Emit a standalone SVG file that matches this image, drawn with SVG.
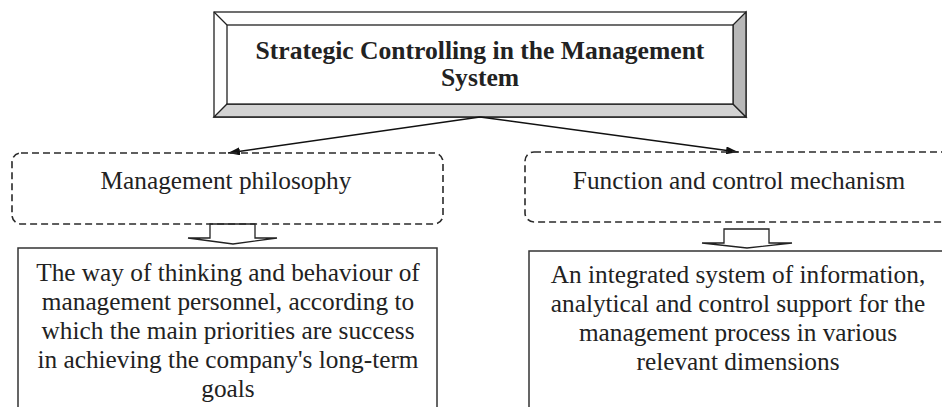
<svg xmlns="http://www.w3.org/2000/svg" width="942" height="407" viewBox="0 0 942 407">
  <style>
    .title { font-family: "Liberation Serif", "Times New Roman", serif; font-weight: bold; font-size: 25.6px; fill: #222; text-anchor: middle; }
    .label { font-family: "Liberation Serif", "Times New Roman", serif; font-size: 25.3px; fill: #222; text-anchor: middle; }
    .dashed { fill: none; stroke: #2a2a2a; stroke-width: 1.6; stroke-dasharray: 7 4; }
    .plain { fill: #fff; stroke: #333; stroke-width: 1.5; }
    .bevel { stroke: #222; stroke-width: 1.3; }
    .link { fill: none; stroke: #111; stroke-width: 1.4; }
    .block { fill: #fff; stroke: #222; stroke-width: 1.3; stroke-linejoin: miter; }
  </style>
  <defs>
    <marker id="arrow" viewBox="0 0 12 8" refX="12" refY="4" markerWidth="12" markerHeight="8" markerUnits="userSpaceOnUse" orient="auto">
      <path d="M0,0 L12,4 L0,8 z" fill="#111"/>
    </marker>
  </defs>

  <rect width="942" height="407" fill="#fff"/>

  <!-- Bevelled title box -->
  <g id="node-title">
    <rect x="214" y="12" width="532" height="105" fill="#fff" class="bevel"/>
    <polygon points="214,117 227,104 733,104 746,117" fill="#d3d3d3" class="bevel"/>
    <polygon points="746,12 733,25 733,104 746,117" fill="#b8b8b8" class="bevel"/>
    <line x1="214" y1="12" x2="227" y2="25" class="bevel"/>
    <rect x="227" y="25" width="506" height="79" fill="#fff" class="bevel"/>
    <text class="title" x="480" y="59">Strategic Controlling in the Management</text>
    <text class="title" x="480" y="86">System</text>
  </g>

  <!-- Connectors from the title to both branches -->
  <g id="connectors">
    <line x1="480" y1="117" x2="228" y2="153" class="link" marker-end="url(#arrow)"/>
    <line x1="480" y1="117" x2="738" y2="152" class="link" marker-end="url(#arrow)"/>
    <polygon class="block" points="210,224 255,224 255,238 277,238 233,244 188,238 210,238"/>
    <polygon class="block" points="724,229 769,229 769,243 792,243 747,248 702,243 724,243"/>
  </g>

  <!-- Left branch -->
  <g id="node-philosophy">
    <rect x="12" y="153" width="431" height="71" rx="9" ry="9" class="dashed"/>
    <text class="label" x="226" y="189">Management philosophy</text>
  </g>
  <g id="node-philosophy-detail">
    <rect x="18" y="248" width="419" height="175" class="plain"/>
    <text class="label" x="228" y="281">The way of thinking and behaviour of</text>
    <text class="label" x="228" y="310">management personnel, according to</text>
    <text class="label" x="228" y="339">which the main priorities are success</text>
    <text class="label" x="228" y="368">in achieving the company's long-term</text>
    <text class="label" x="228" y="397">goals</text>
  </g>

  <!-- Right branch -->
  <g id="node-mechanism">
    <rect x="525" y="152" width="440" height="70" rx="9" ry="9" class="dashed"/>
    <text class="label" x="739" y="189">Function and control mechanism</text>
  </g>
  <g id="node-mechanism-detail">
    <rect x="529" y="251" width="430" height="175" class="plain"/>
    <text class="label" x="738" y="283">An integrated system of information,</text>
    <text class="label" x="738" y="312">analytical and control support for the</text>
    <text class="label" x="738" y="341">management process in various</text>
    <text class="label" x="738" y="370">relevant dimensions</text>
  </g>
</svg>
